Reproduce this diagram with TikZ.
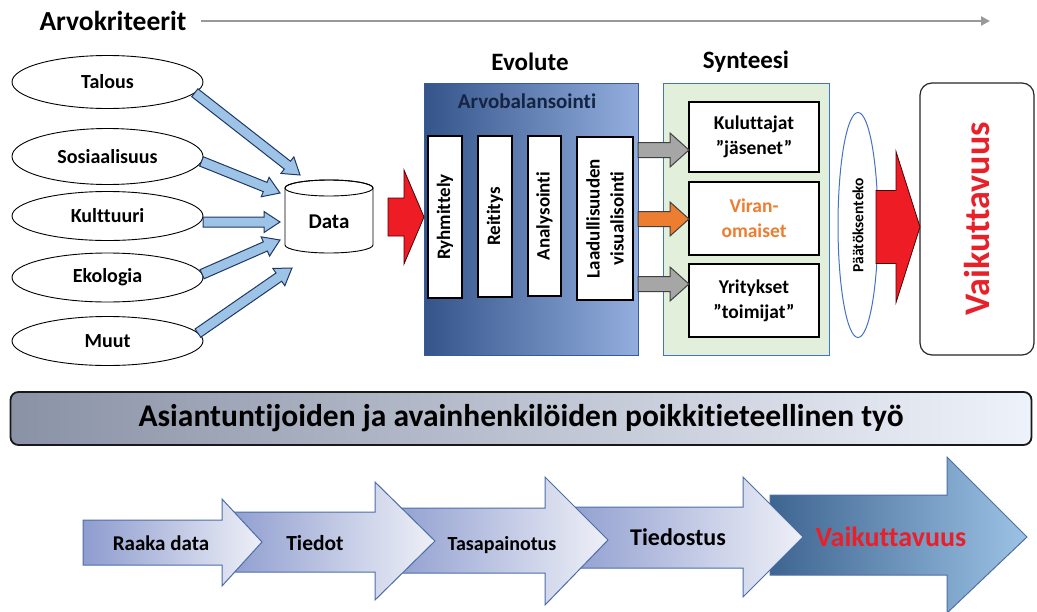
\documentclass[tikz,border=0pt]{standalone}
\usepackage{fontspec}
\setmainfont{Carlito}[Ligatures=NoCommon]
\usetikzlibrary{shapes.geometric,calc,arrows.meta}
\newcommand\fsz[2]{\fontsize{#1}{#2}\selectfont\bfseries}
% block arrow: #1 style, #2 start, #3 tip, #4 shaft half width, #5 head half width, #6 head length
\newcommand\fatarrow[6]{%
 \draw[#1] let \p1=(#2), \p2=(#3), \p3=($(\p2)!#6!(\p1)$) in
  ($(\p1)!#4!90:(\p2)$) -- ($(\p3)!#4!90:(\p2)$) -- ($(\p3)!#5!90:(\p2)$) -- (\p2)
  -- ($(\p3)!#5!-90:(\p2)$) -- ($(\p3)!#4!-90:(\p2)$) -- ($(\p1)!#4!-90:(\p2)$) -- cycle;}
\definecolor{arrblue}{HTML}{9DC3E6}
\definecolor{arredge}{HTML}{1F3864}
\definecolor{evoL}{HTML}{34548A}
\definecolor{evoR}{HTML}{93AEDE}
\definecolor{synfill}{HTML}{E2EFDA}
\definecolor{synedge}{HTML}{4472C4}
\definecolor{orng}{HTML}{ED7D31}
\definecolor{redA}{HTML}{EE1C25}
\definecolor{vred}{HTML}{E8202A}
\definecolor{bannerL}{HTML}{8A92A6}
\definecolor{bannerR}{HTML}{EEF2FA}
\definecolor{chevL}{HTML}{8E9CCF}
\definecolor{chevR}{HTML}{EEF0F7}
\definecolor{chevedge}{HTML}{4C6EA8}
\definecolor{lastL}{HTML}{3E6590}
\definecolor{lastR}{HTML}{9CC2E5}
\definecolor{navy}{HTML}{142442}
\definecolor{grayarr}{HTML}{A6A6A6}
\begin{document}
\begin{tikzpicture}[x=1pt,y=-1pt,
  every node/.style={inner sep=0pt, outer sep=0pt},
  crit/.style={ellipse, draw=black, line width=0.9pt, fill=white, minimum width=191pt, minimum height=49pt, font=\fsz{20}{22}},
  bluearr/.style={fill=arrblue, draw=arredge, line width=1pt},
  redarr/.style={fill=redA, draw=black!70!red, line width=0.8pt},
  grayar/.style={fill=grayarr, draw=black!75, line width=1pt},
  orangear/.style={fill=orng, draw=black!75, line width=1pt},
  vbox/.style={draw=black, line width=1.2pt, fill=white, rotate=90, font=\fsz{19}{24}, align=center},
  sbox/.style={draw=black, line width=1.5pt, fill=white, minimum width=130pt, font=\fsz{19.5}{25}, align=center},
  head/.style={font=\fsz{25}{27}},
  chev/.style={draw=chevedge, line width=1pt, left color=chevL, right color=chevR},
]
\useasboundingbox (0,0) rectangle (1037,611);

% title line
\node[font=\fsz{27.5}{30}] (title) at (113,21) {Arvokriteerit};
\coordinate (tend) at (990,21);
\draw[black!40, line width=2.5pt, -{Triangle[length=9pt,width=9pt]}] ([xshift=15pt]title.east) -- (tend);

% criteria ellipses
\node[crit, minimum height=53pt] (tal) at (107.5,82) {Talous};
\node[crit, minimum height=56pt] (sos) at (107.5,156.5) {Sosiaalisuus};
\node[crit] (kul) at (107.5,216) {Kulttuuri};
\node[crit] (eko) at (107.5,277.5) {Ekologia};
\node[crit] (muu) at (107.5,341) {Muut};

% data cylinder
\draw[fill=white, line width=0.9pt] (285,188) -- (285,245)
  arc[start angle=180, end angle=360, x radius=44pt, y radius=8pt] -- (373,188)
  arc[start angle=0, end angle=180, x radius=44pt, y radius=8pt] -- cycle;
\draw[line width=0.9pt] (329,188) ellipse [x radius=44pt, y radius=8pt];
\node[minimum width=88pt, minimum height=62pt, font=\fsz{21}{23}] (data) at (329,222) {Data};

\coordinate (d1) at (300,175);
\coordinate (d2) at (280,193);
\coordinate (d3) at (280,222);
\coordinate (d4) at (280,240);
\coordinate (d5) at (292,268);
\fatarrow{bluearr}{tal.-7}{d1}{5pt}{10.5pt}{16pt}
\fatarrow{bluearr}{sos.-3}{d2}{5pt}{10.5pt}{16pt}
\fatarrow{bluearr}{kul.east |- d3}{d3}{5pt}{10.5pt}{16pt}
\fatarrow{bluearr}{eko.2}{d4}{5pt}{10.5pt}{16pt}
\fatarrow{bluearr}{muu.5}{d5}{5pt}{10.5pt}{16pt}

% Evolute
\node[head] (evoT) at (530,62) {Evolute};
\node[draw=synedge!80!black, line width=1pt, left color=evoL, right color=evoR, minimum width=214pt, minimum height=272pt] (evo) at (531,219) {};
\node[font=\fsz{21}{23}, text=navy] (arvo) at (527,101) {Arvobalansointi};
\node[vbox, minimum width=162pt, minimum height=34pt] (ryh) at (445,217) {Ryhmittely};
\node[vbox, minimum width=161pt, minimum height=34pt] (rei) at (495,216.5) {Reititys};
\node[vbox, minimum width=160pt, minimum height=33pt] (ana) at (544.5,216) {Analysointi};
\node[vbox, minimum width=163pt, minimum height=56pt] (laa) at (605,218.5) {Laadullisuuden\\visualisointi};

\coordinate (r1) at (388,217);
\fatarrow{redarr}{r1}{evo.west |- r1}{19pt}{47pt}{20pt}

% Synteesi
\node[head] (synT) at (746,62) {Synteesi};
\node[draw=synedge, line width=1pt, fill=synfill, minimum width=166pt, minimum height=272pt] (syn) at (746,219) {};
\node[sbox, minimum height=70pt] (kulu) at (754,137) {Kuluttajat\\”jäsenet”};
\node[sbox, minimum height=73pt, text=orng] (vira) at (754,218.5) {Viran-\\omaiset};
\node[sbox, minimum height=73pt] (yrit) at (754,300.5) {Yritykset\\”toimijat”};

\coordinate (g1) at ($(evo.east)+(0,-69)$);
\coordinate (g2) at ($(evo.east)+(0,0)$);
\coordinate (g3) at ($(evo.east)+(0,65)$);
\fatarrow{grayar}{g1}{kulu.west |- g1}{7.5pt}{17pt}{19pt}
\fatarrow{orangear}{g2}{vira.west |- g2}{7.5pt}{17pt}{19pt}
\fatarrow{grayar}{g3}{yrit.west |- g3}{7.5pt}{17pt}{19pt}

% decision
\node[ellipse, draw=synedge, line width=1pt, fill=white, rotate=90, minimum width=225pt, minimum height=40pt, font=\fsz{15.5}{17}] (paat) at (858,225) {Päätöksenteko};

% impact box
\node[draw=black!85, line width=1.2pt, fill=white, rounded corners=12pt, rotate=90, minimum width=272pt, minimum height=114pt, font=\fsz{36}{38}, text=vred] (vaik) at (977,219) {Vaikuttavuus};

\coordinate (r2) at (876,227);
\fatarrow{redarr}{r2}{vaik.north |- r2}{36.5pt}{75.5pt}{24pt}

% banner
\node[draw=black!90, line width=1.8pt, rounded corners=8pt, left color=bannerL, right color=bannerR, minimum width=1021pt, minimum height=53pt, font=\fsz{31.5}{33}] (ban) at (521,418.5) {Asiantuntijoiden ja avainhenkilöiden poikkitieteellinen työ};

% bottom process arrows
\draw[draw=chevedge, line width=1pt, left color=lastL, right color=lastR] (770,495) -- (947,495) -- (947,457) -- (1027,537) -- (947,613) -- (947,575) -- (770,575) -- cycle;
\draw[chev] (560,507) -- (743,507) -- (743,477) -- (803,537) -- (743,597) -- (743,568) -- (560,568) -- cycle;
\draw[chev] (385,508) -- (545,508) -- (545,477) -- (608,540) -- (545,605) -- (545,573) -- (385,573) -- cycle;
\draw[chev] (225,512) -- (375,512) -- (375,482) -- (435,541) -- (375,600) -- (375,572) -- (225,572) -- cycle;
\draw[chev] (83,520) -- (222,520) -- (222,499) -- (262,542) -- (222,586) -- (222,565) -- (83,565) -- cycle;

\node[font=\fsz{21}{23}] (p1) at (161,543) {Raaka data};
\node[font=\fsz{21.5}{23}] (p2) at (315,543) {Tiedot};
\node[font=\fsz{20}{22}] (p3) at (502,545) {Tasapainotus};
\node[font=\fsz{24}{26}] (p4) at (678,537) {Tiedostus};
\node[font=\fsz{28}{30}, text=vred] (p5) at (891,537) {Vaikuttavuus};
\end{tikzpicture}
\end{document}
